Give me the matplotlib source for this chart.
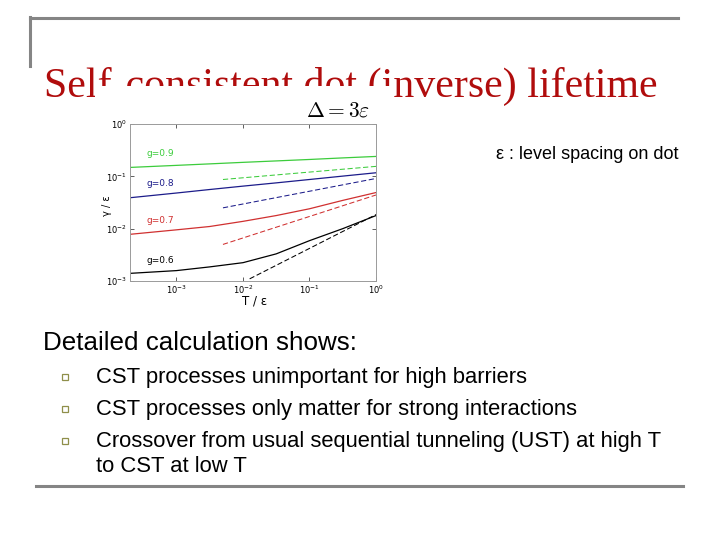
import matplotlib
matplotlib.use('Agg')
import matplotlib.pyplot as plt
from matplotlib.patches import Rectangle
from matplotlib.lines import Line2D
import numpy as np

# datos (escala log-log)
x_solido = [2e-4, 1e-3, 3.16e-3, 1e-2, 3.16e-2, 1e-1, 3.16e-1, 1.0]
g09_solido = [0.148, 0.162, 0.173, 0.185, 0.197, 0.21, 0.225, 0.24]
g08_solido = [0.039, 0.048, 0.056, 0.065, 0.075, 0.087, 0.101, 0.117]
g07_solido = [0.0078, 0.0095, 0.011, 0.0138, 0.0178, 0.024, 0.0347, 0.049]
g06_solido = [0.0014, 0.00158, 0.00186, 0.00224, 0.0033, 0.0059, 0.01, 0.0178]

x_tracejado = [5e-3, 1.0]
g09_tracejado = [0.087, 0.155]
g08_tracejado = [0.025, 0.091]
g07_tracejado = [0.005, 0.044]
x_trac_g06 = [1.26e-2, 1.0]
g06_tracejado = [0.0011, 0.0186]

rotulos_g = ['g=0.9', 'g=0.8', 'g=0.7', 'g=0.6']
y_rotulos = [0.24, 0.066, 0.0127, 0.0022]
cores = ['#3ccc3c', '#1c1c8a', '#d03030', '#000000']

titulo = 'Self-consistent dot (inverse) lifetime'
subtitulo = 'Detailed calculation shows:'
itens = ['CST processes unimportant for high barriers',
         'CST processes only matter for strong interactions',
         'Crossover from usual sequential tunneling (UST) at high T\nto CST at low T']

W, H = 720, 540
fig = plt.figure(figsize=(W / 100, H / 100), dpi=100)
fig.patch.set_facecolor('white')

def fx(px):
    return px / W

def fy(py):
    return 1 - py / H

cinza = '#858585'
# linhas decorativas do slide
fig.add_artist(Line2D([fx(30), fx(678)], [fy(18), fy(18)], color=cinza, lw=2.2))
fig.add_artist(Line2D([fx(30), fx(30)], [fy(17), fy(66)], color=cinza, lw=2.2))
fig.add_artist(Line2D([fx(36), fx(683)], [fy(486), fy(486)], color=cinza, lw=2.2))

# titulo (parcialmente coberto pela figura)
t = fig.text(fx(44), fy(97), titulo, fontsize=30.2, color='#b00c0c',
             family='Liberation Serif', ha='left', va='baseline')
t.set_zorder(1)
ret = Rectangle((fx(95), fy(310)), fx(393 - 95), fy(86) - fy(310),
                transform=fig.transFigure, facecolor='white', edgecolor='none', zorder=2)
fig.add_artist(ret)

# grafico
ax = fig.add_axes([fx(130), fy(281), fx(376 - 130), fy(124) - fy(281)])
ax.set_zorder(3)
solidos = [g09_solido, g08_solido, g07_solido, g06_solido]
tracejados = [(x_tracejado, g09_tracejado), (x_tracejado, g08_tracejado),
              (x_tracejado, g07_tracejado), (x_trac_g06, g06_tracejado)]
for ys, (xt, yt), cor, rot, yr in zip(solidos, tracejados, cores, rotulos_g, y_rotulos):
    ax.plot(x_solido, ys, color=cor, lw=0.9)
    ax.plot(xt, yt, color=cor, lw=0.75, ls=(0, (5, 2.5)))
    ax.text(3.6e-4, yr, rot, color=cor, fontsize=6.5, family='DejaVu Sans')

ax.set_xscale('log')
ax.set_yscale('log')
ax.set_xlim(2e-4, 1)
ax.set_ylim(1e-3, 1)
ax.set_xticks([1e-3, 1e-2, 1e-1, 1])
ax.set_yticks([1e-3, 1e-2, 1e-1, 1])
ax.minorticks_off()
ax.tick_params(direction='in', top=True, right=True, labelsize=6, length=3,
               width=0.6, color='#444444', pad=2)
for s in ax.spines.values():
    s.set_color('#9a9a9a')
    s.set_linewidth(0.7)
ax.set_xlabel('T / ε', fontsize=8.5)
ax.xaxis.set_label_coords(0.508, -0.085)
ax.set_ylabel('γ / ε', fontsize=7)
ax.yaxis.set_label_coords(-0.075, 0.48)
ax.text(0.975, 1.085, r'$\Delta = 3\varepsilon$', transform=ax.transAxes,
        ha='right', va='center', fontsize=15.5, math_fontfamily='cm')

fig.text(fx(496), fy(155), 'ε : level spacing on dot', fontsize=13,
         family='Liberation Sans', ha='left', va='center')

fig.text(fx(43), fy(343), subtitulo, fontsize=18.7, family='Liberation Sans',
         ha='left', va='center')
y_itens = [377, 409, 441]
for item, yi in zip(itens, y_itens):
    fig.add_artist(Rectangle((fx(61.5), fy(yi + 3)), fx(6), fy(yi - 3) - fy(yi + 3),
                             transform=fig.transFigure, facecolor='white',
                             edgecolor='#8f8f4a', lw=0.9))
    for k, linha in enumerate(item.split('\n')):
        fig.text(fx(96), fy(yi + 26 * k), linha, fontsize=15.8,
                 family='Liberation Sans', ha='left', va='center')

fig.savefig('out.png', dpi=100)
